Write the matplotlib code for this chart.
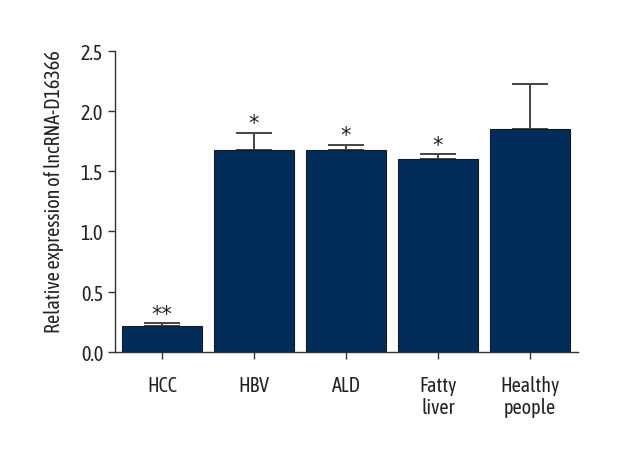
import matplotlib
matplotlib.use("Agg")
import matplotlib.pyplot as plt

categories = ["HCC", "HBV", "ALD", "Fatty\nliver", "Healthy\npeople"]
values = [0.21, 1.68, 1.68, 1.605, 1.85]
errors = [0.028, 0.14, 0.042, 0.039, 0.375]
stars = ["**", "*", "*", "*", ""]
yticks = [0.0, 0.5, 1.0, 1.5, 2.0, 2.5]
ylabel = "Relative expression of lncRNA-D16366"

plt.rcParams["font.family"] = ["Asap Condensed", "Liberation Sans", "DejaVu Sans"]

fig = plt.figure(figsize=(6.2, 4.6), dpi=100)
ax = fig.add_axes([0.1855, 0.2333, 0.7465, 0.6537])

x = list(range(len(categories)))
ax.bar(x, values, width=0.86, color="#022d5a", edgecolor="#1a1a1a", linewidth=0.8, zorder=2)
ax.errorbar(x, values, yerr=[[0]*len(errors), errors], fmt="none", ecolor="#444444",
            elinewidth=1.4, capsize=13, capthick=1.4, zorder=1)
for xi, v, e, s in zip(x, values, errors, stars):
    if s:
        ax.text(xi, v + e - 0.005, s, ha="center", va="bottom", fontsize=15,
                color="#222222", family=["DejaVu Sans"])

ax.set_xlim(-0.51, 4.52)
ax.set_ylim(0, 2.5)
ax.set_yticks(yticks)
ax.set_yticklabels([f"{t:.1f}" for t in yticks])
ax.set_xticks(x)
ax.set_xticklabels(categories, linespacing=1.1)
ax.spines["top"].set_visible(False)
ax.spines["right"].set_visible(False)
for sp in ("left", "bottom"):
    ax.spines[sp].set_color("#333333")
    ax.spines[sp].set_linewidth(1.0)
ax.tick_params(axis="both", direction="out", length=5, width=1.0, color="#333333",
               labelsize=14.5, labelcolor="#222222")
ax.tick_params(axis="x", pad=12)
ax.set_ylabel(ylabel, fontsize=14.5, color="#222222")
ax.yaxis.set_label_coords(-0.11, 0.534)

fig.savefig("out.png", dpi=100)
